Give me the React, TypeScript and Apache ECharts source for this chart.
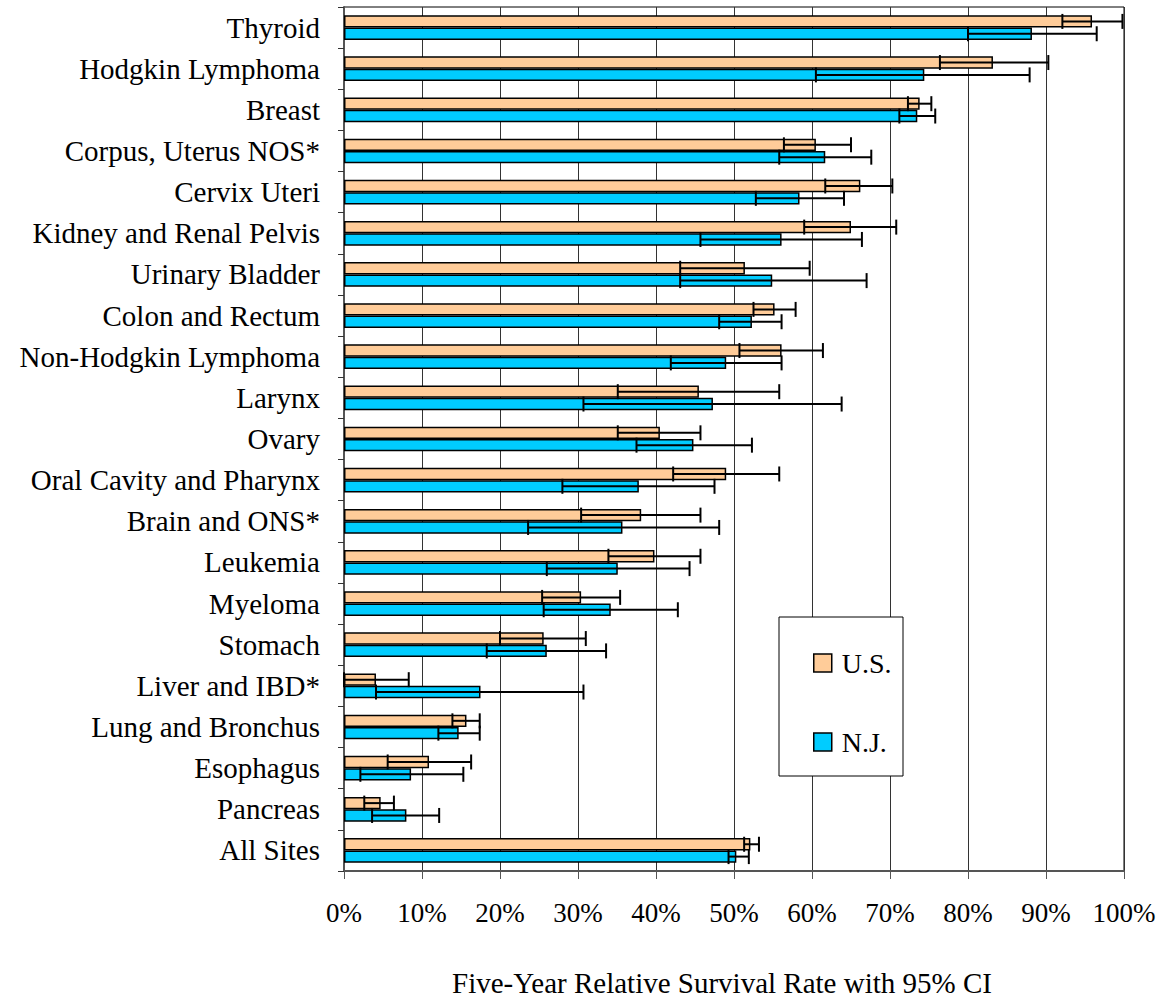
import React, { useEffect, useRef } from "react";
import * as echarts from "echarts";

const categories = [
  "Thyroid",
  "Hodgkin Lymphoma",
  "Breast",
  "Corpus, Uterus NOS*",
  "Cervix Uteri",
  "Kidney and Renal Pelvis",
  "Urinary Bladder",
  "Colon and Rectum",
  "Non-Hodgkin Lymphoma",
  "Larynx",
  "Ovary",
  "Oral Cavity and Pharynx",
  "Brain and ONS*",
  "Leukemia",
  "Myeloma",
  "Stomach",
  "Liver and IBD*",
  "Lung and Bronchus",
  "Esophagus",
  "Pancreas",
  "All Sites",
];

const usRate = [95.9, 83.2, 73.8, 60.5, 66.2, 65.0, 51.4, 55.2, 56.1, 45.5, 40.5, 49.0, 38.1, 39.8, 30.4, 25.6, 4.1, 15.7, 10.9, 4.7, 52.1];
const usLower = [92.1, 76.4, 72.3, 56.4, 61.7, 59.0, 43.1, 52.5, 50.7, 35.1, 35.1, 42.2, 30.4, 33.9, 25.4, 20.0, 0.0, 13.9, 5.6, 2.6, 51.3];
const usUpper = [99.8, 90.3, 75.3, 65.0, 70.3, 70.8, 59.7, 57.9, 61.4, 55.8, 45.7, 55.8, 45.7, 45.7, 35.4, 31.0, 8.3, 17.4, 16.3, 6.4, 53.2];

const njRate = [88.2, 74.4, 73.5, 61.7, 58.4, 56.1, 54.9, 52.3, 49.0, 47.3, 44.8, 37.8, 35.7, 35.1, 34.2, 26.0, 17.5, 14.7, 8.6, 8.0, 50.3];
const njLower = [80.0, 60.5, 71.2, 55.8, 52.8, 45.7, 43.1, 48.1, 41.9, 30.7, 37.5, 28.0, 23.6, 26.0, 25.6, 18.3, 4.1, 12.1, 2.1, 3.6, 49.3];
const njUpper = [96.5, 87.9, 75.8, 67.6, 64.1, 66.4, 67.0, 56.1, 56.1, 63.8, 52.3, 47.5, 48.1, 44.3, 42.8, 33.6, 30.7, 17.4, 15.3, 12.2, 51.9];

const xTicks = [0, 10, 20, 30, 40, 50, 60, 70, 80, 90, 100];

const FONT = "'Liberation Serif', 'Times New Roman', serif";
const US_COLOR = "#FFCC99";
const NJ_COLOR = "#00CCFF";
const CAT_GAP = 0.4;

function errorRenderer(sign: number) {
  return (params: any, api: any) => {
    const idx = api.value(2);
    const lo = api.coord([api.value(0), idx]);
    const hi = api.coord([api.value(1), idx]);
    const band = api.size([0, 1])[1];
    const bw = (band * (1 - CAT_GAP)) / 2;
    const y = lo[1] + (sign * bw) / 2;
    const cap = 7.5;
    const style = { stroke: "#000", lineWidth: 2 };
    return {
      type: "group",
      children: [
        { type: "line", shape: { x1: lo[0], y1: y, x2: hi[0], y2: y }, style },
        { type: "line", shape: { x1: lo[0], y1: y - cap, x2: lo[0], y2: y + cap }, style },
        { type: "line", shape: { x1: hi[0], y1: y - cap, x2: hi[0], y2: y + cap }, style },
      ],
    };
  };
}

export default function App() {
  const ref = useRef<HTMLDivElement>(null);
  useEffect(() => {
    if (!ref.current) return;
    const chart = echarts.init(ref.current, null, { renderer: "svg" });
    const usErr = categories.map((_, i) => [usLower[i], usUpper[i], i]);
    const njErr = categories.map((_, i) => [njLower[i], njUpper[i], i]);
    chart.setOption({
      animation: false,
      backgroundColor: "#fff",
      textStyle: { fontFamily: FONT, color: "#000" },
      grid: {
        left: 344,
        right: 41,
        top: 7,
        bottom: 129,
        show: true,
        borderColor: "#000",
        borderWidth: 1,
        backgroundColor: "transparent",
      },
      legend: {
        data: ["U.S.", "N.J."],
        orient: "vertical",
        left: 808,
        top: 644,
        itemWidth: 18,
        itemHeight: 18,
        itemGap: 51,
        icon: "rect",
        itemStyle: { borderColor: "#000", borderWidth: 1.5 },
        textStyle: { fontFamily: FONT, fontSize: 28, color: "#000", padding: [0, 0, 0, 5] },
        selectedMode: false,
        z: 20,
      },
      graphic: [
        {
          type: "rect",
          z: 10,
          shape: { x: 779, y: 617, width: 124, height: 159 },
          style: { fill: "#fff", stroke: "#000", lineWidth: 1 },
        },
      ],
      xAxis: {
        type: "value",
        min: 0,
        max: 100,
        interval: 10,
        name: "Five-Year Relative Survival Rate with 95% CI",
        nameLocation: "middle",
        nameGap: 97,
        nameTextStyle: { fontFamily: FONT, fontSize: 29, color: "#000", padding: [0, 24, 0, 0] },
        axisLine: { show: true, lineStyle: { color: "#555", width: 2 } },
        axisTick: { show: true, length: 8, lineStyle: { color: "#555", width: 1 } },
        axisLabel: {
          fontFamily: FONT,
          fontSize: 27,
          color: "#000",
          margin: 28,
          formatter: (v: number) => (xTicks.includes(v) ? v + "%" : ""),
        },
        splitLine: { show: true, lineStyle: { color: "#333", width: 1 } },
      },
      yAxis: {
        type: "category",
        data: categories,
        inverse: true,
        axisLine: { show: true, lineStyle: { color: "#555", width: 2 } },
        axisTick: { show: true, length: 6, lineStyle: { color: "#333", width: 1 } },
        axisLabel: { fontFamily: FONT, fontSize: 29, color: "#000", margin: 24 },
        splitLine: { show: false },
      },
      series: [
        {
          name: "U.S.",
          type: "bar",
          data: usRate,
          barGap: "0%",
          barCategoryGap: "40%",
          itemStyle: { color: US_COLOR, borderColor: "#000", borderWidth: 1.5 },
          z: 2,
        },
        {
          name: "N.J.",
          type: "bar",
          data: njRate,
          barGap: "0%",
          barCategoryGap: "40%",
          itemStyle: { color: NJ_COLOR, borderColor: "#000", borderWidth: 1.5 },
          z: 2,
        },
        {
          name: "US CI",
          type: "custom",
          data: usErr,
          encode: { x: [0, 1], y: 2 },
          renderItem: errorRenderer(-1),
          z: 5,
        },
        {
          name: "NJ CI",
          type: "custom",
          data: njErr,
          encode: { x: [0, 1], y: 2 },
          renderItem: errorRenderer(1),
          z: 5,
        },
      ],
    });
    return () => chart.dispose();
  }, []);
  return (
    <div
      ref={ref}
      style={{ position: "absolute", left: 0, top: 0, width: 1165, height: 1002 }}
    />
  );
}
